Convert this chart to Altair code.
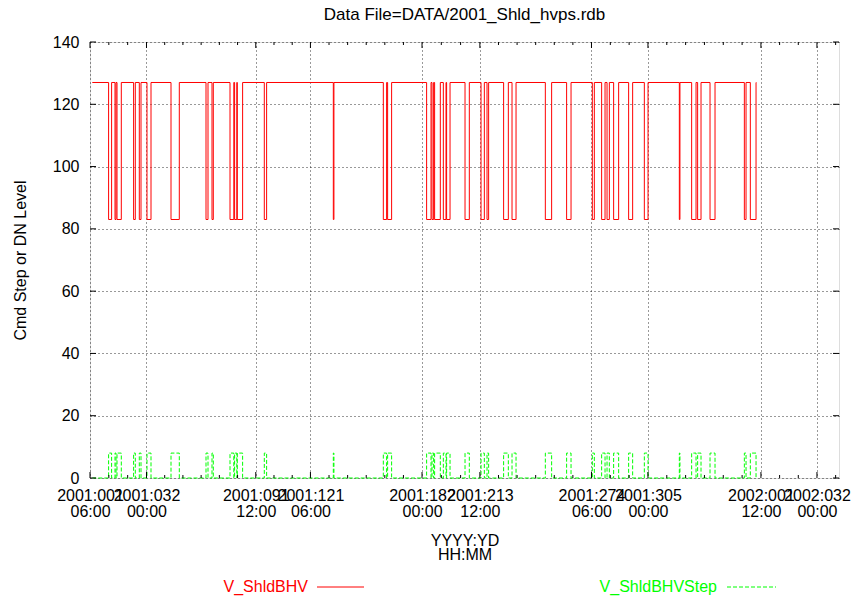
import altair as alt
import pandas as pd

# ---- data (x in fractional day-of-year 2001; 2001:001 00:00 = 1.0) ----
x_ticks = [1.25, 32.0, 91.5, 121.25, 182.0, 213.5, 274.25, 305.0, 366.5, 397.0]
x_domain = [1.25, 409.0]
y_ticks = [0, 20, 40, 60, 80, 100, 120, 140]

start_day = 2.50
end_day = 364.0
high_level = 127
low_level = 83
step_high = 8
step_low = 0

low_start = [11.38, 14.86, 15.95, 24.99, 28.09, 32.28, 45.35, 64.40, 67.67,
             77.47, 79.97, 81.44, 96.14, 133.71, 160.93, 163.27, 184.50,
             187.44, 188.86, 193.60, 195.39, 205.41, 214.12, 217.39, 226.42,
             231.00, 249.13, 260.72, 274.72, 279.78, 282.72, 286.31, 294.48,
             303.03, 322.08, 328.78, 332.04, 338.79, 357.47, 360.73]
low_end = [13.01, 15.41, 18.29, 25.91, 29.02, 34.46, 49.87, 65.49, 68.38,
           79.54, 81.17, 84.33, 97.40, 134.04, 162.73, 165.45, 186.90,
           188.31, 191.96, 195.07, 197.25, 207.75, 215.92, 218.26, 228.99,
           233.18, 252.56, 263.12, 275.81, 281.63, 283.97, 289.04, 296.66,
           305.04, 322.41, 331.17, 333.89, 341.51, 358.39, 363.84]

# ---- build tables ----
red_rows = [(start_day, high_level)]
green_rows = [(start_day, step_low)]
for s, e in zip(low_start, low_end):
    red_rows += [(s, low_level), (e, high_level)]
    green_rows += [(s, step_high), (e, step_low)]
red_rows.append((end_day, high_level))
green_rows.append((end_day, step_low))
red_df = pd.DataFrame(red_rows, columns=["day", "value"])
green_df = pd.DataFrame(green_rows, columns=["day", "value"])

minor = []
for a, b in zip(x_ticks[:-1], x_ticks[1:]):
    n = max(1, round((b - a) / 10.2))
    minor += [a + k * (b - a) / n for k in range(1, n)]
k = 1
while x_ticks[-1] + k * 10.17 < x_domain[1]:
    minor.append(x_ticks[-1] + k * 10.17)
    k += 1
major_df = pd.DataFrame({"day": x_ticks})
minor_df = pd.DataFrame({"day": minor})
ytick_df = pd.DataFrame({"v": y_ticks})

W, H = 749, 436
FONT = "Liberation Sans"
FS = 16

label_expr = ("[(datum.value >= 366 ? '2002:' + format(floor(datum.value) - 365, '03d') : "
              "'2001:' + format(floor(datum.value), '03d')), "
              "format(round((datum.value - floor(datum.value)) * 24), '02d') + ':00']")

xscale = alt.Scale(domain=x_domain, nice=False, zero=False)
yscale = alt.Scale(domain=[0, 140], nice=False)

xaxis = alt.Axis(values=x_ticks, labelExpr=label_expr, grid=True, ticks=False, domain=False,
                 labelOverlap=False, labelFlush=False, labelBound=False,
                 labelFont=FONT, labelFontSize=FS, labelColor="black", labelPadding=9,
                 labelLineHeight=16, labelBaseline="top",
                 title=["YYYY:YD", "HH:MM"], titleFont=FONT, titleFontSize=FS,
                 titleFontWeight="normal", titleColor="black", titleLineHeight=14,
                 titleX=W / 2, titleY=54, titleBaseline="top", titleAlign="center",
                 gridColor="#000000", gridDash=[1, 3], gridWidth=1, gridOpacity=0.8)
yaxis = alt.Axis(values=y_ticks, grid=True, ticks=False, domain=False,
                 labelFont=FONT, labelFontSize=FS, labelColor="black", labelPadding=11,
                 title="Cmd Step or DN Level", titleFont=FONT, titleFontSize=FS,
                 titleFontWeight="normal", titleColor="black",
                 titleX=-70, titleY=H / 2, titleAngle=270, titleAlign="center",
                 titleBaseline="middle",
                 gridColor="#000000", gridDash=[1, 3], gridWidth=1, gridOpacity=0.8)

red = alt.Chart(red_df).mark_line(color="#ff0000", strokeWidth=1, interpolate="step-after").encode(
    x=alt.X("day:Q", scale=xscale, axis=xaxis),
    y=alt.Y("value:Q", scale=yscale, axis=yaxis),
)
green = alt.Chart(green_df).mark_line(color="#00ff00", strokeWidth=1, strokeDash=[4, 2],
                                      interpolate="step-after").encode(
    x=alt.X("day:Q", scale=xscale),
    y=alt.Y("value:Q", scale=yscale),
)

tick_b = alt.Chart(major_df).mark_rule(color="black").encode(
    x=alt.X("day:Q", scale=xscale), y=alt.value(H), y2=alt.value(H - 6))
tick_t = alt.Chart(major_df).mark_rule(color="black").encode(
    x=alt.X("day:Q", scale=xscale), y=alt.value(0), y2=alt.value(6))
mtick_b = alt.Chart(minor_df).mark_rule(color="black").encode(
    x=alt.X("day:Q", scale=xscale), y=alt.value(H), y2=alt.value(H - 3))
mtick_t = alt.Chart(minor_df).mark_rule(color="black").encode(
    x=alt.X("day:Q", scale=xscale), y=alt.value(0), y2=alt.value(3))
ytick_l = alt.Chart(ytick_df).mark_rule(color="black").encode(
    y=alt.Y("v:Q", scale=yscale), x=alt.value(0), x2=alt.value(6))
ytick_r = alt.Chart(ytick_df).mark_rule(color="black").encode(
    y=alt.Y("v:Q", scale=yscale), x=alt.value(W), x2=alt.value(W - 6))

leg_y = 545
leg_red_t = alt.Chart(pd.DataFrame({"t": ["V_ShldBHV"]})).mark_text(
    align="right", baseline="middle", font=FONT, fontSize=FS, color="#ff0000").encode(
    text="t:N", x=alt.value(218), y=alt.value(leg_y))
leg_red_l = alt.Chart(pd.DataFrame({"t": ["V_ShldBHV"]})).mark_rule(
    color="#ff0000", strokeWidth=1).encode(x=alt.value(227), x2=alt.value(274), y=alt.value(leg_y))
leg_grn_t = alt.Chart(pd.DataFrame({"t": ["V_ShldBHVStep"]})).mark_text(
    align="right", baseline="middle", font=FONT, fontSize=FS, color="#00ff00").encode(
    text="t:N", x=alt.value(627), y=alt.value(leg_y))
leg_grn_l = alt.Chart(pd.DataFrame({"t": ["V_ShldBHVStep"]})).mark_rule(
    color="#00ff00", strokeWidth=1, strokeDash=[4, 2]).encode(
    x=alt.value(637), x2=alt.value(686), y=alt.value(leg_y))

chart = alt.layer(
    red, green, tick_b, tick_t, mtick_b, mtick_t, ytick_l, ytick_r,
    leg_red_t, leg_red_l, leg_grn_t, leg_grn_l,
).properties(
    width=W, height=H,
    title=alt.TitleParams("Data File=DATA/2001_Shld_hvps.rdb", font=FONT, fontSize=17,
                          fontWeight="normal", color="black", anchor="middle", offset=10),
    autosize=alt.AutoSizeParams(type="none"),
    padding={"left": 90, "top": 42, "right": 13, "bottom": 121},
).configure_view(stroke="black", strokeWidth=1).configure(background="white")

chart.save("out.html", embed_options={"renderer": "svg", "actions": False})
